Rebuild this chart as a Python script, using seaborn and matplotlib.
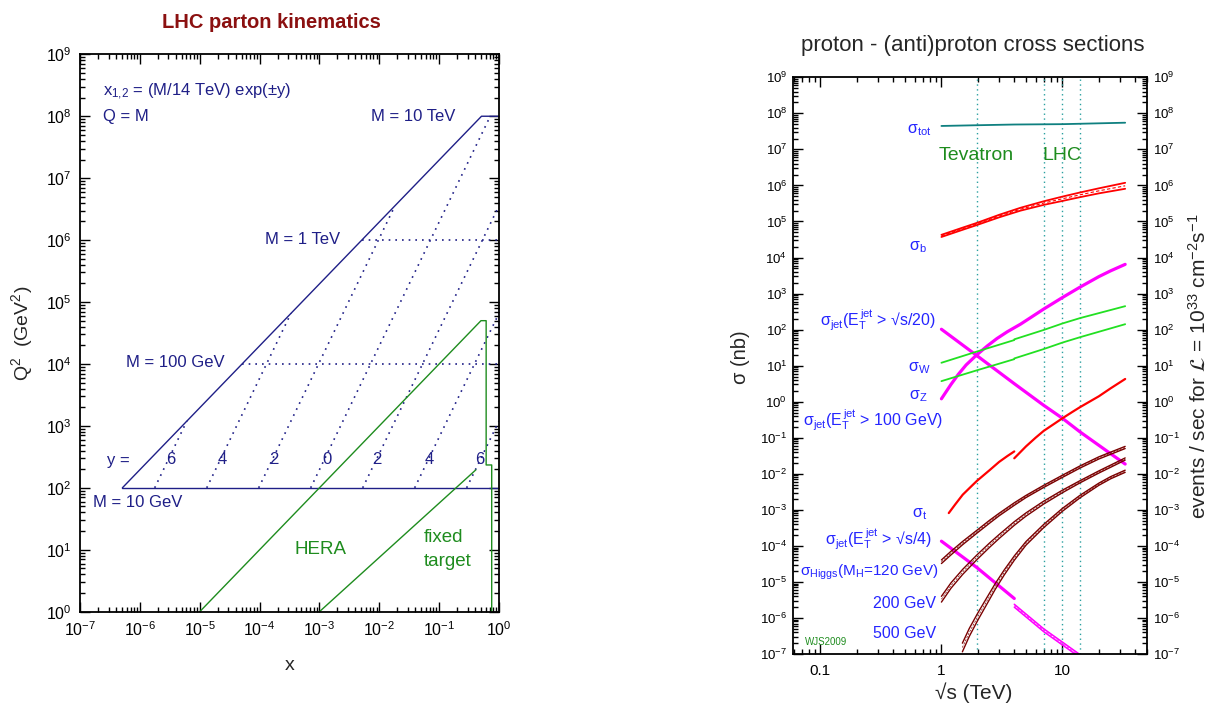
import numpy as np
import matplotlib
matplotlib.use('Agg')
import matplotlib.pyplot as plt
import matplotlib.ticker as mticker
import seaborn as sns

# ---------------- left panel data (LHC parton kinematics) ----------------
edge_x = [5.1e-7, 0.51, 1.0]          # Q^2 = x s boundary, then M = 10 TeV
edge_q2 = [1e2, 1e8, 1e8]
mlow_x = [5.1e-7, 1.0]                # M = 10 GeV
mlow_q2 = [1e2, 1e2]
rap_labels = ['6', '4', '2', '0', '2', '4', '6']
rap_x0 = [1.77e-6, 1.31e-5, 9.66e-5, 7.14e-4, 5.28e-3, 3.9e-2, 2.88e-1]
rap_q0 = [1e2, 1e2, 1e2, 1e2, 1e2, 1e2, 1e2]
rap_x1 = [6.1e-6, 3.35e-4, 1.83e-2, 7.14e-1, 1.0, 1.0, 1.0]
rap_q1 = [1.2e3, 6.6e4, 3.59e6, 1e8, 3.59e6, 6.6e4, 1.2e3]
mass_q2 = [1e4, 1e6]
mass_x0 = [5.1e-5, 5.1e-3]
hera_x = [1e-5, 0.5, 0.61, 0.61, 0.755, 0.755]
hera_q2 = [1.0, 5e4, 5e4, 234.0, 234.0, 1.0]
fixed_x = [1e-3, 0.41]
fixed_q2 = [1.0, 195.0]

# ---------------- right panel data (log10 sigma in nb vs sqrt(s) in TeV) ----------------
colliders = [1.96, 7.0, 10.0, 14.0]
tot_rs = [1, 1.96, 4, 10, 33]
tot_lg = [7.65, 7.67, 7.69, 7.70, 7.74]
b_rs = [1, 1.5, 1.96, 3, 4.5, 7, 10, 14, 20, 33]
b_mid = [4.60, 4.80, 4.93, 5.15, 5.34, 5.51, 5.63, 5.74, 5.85, 5.99]
b_hw = [0.03, 0.03, 0.03, 0.035, 0.04, 0.05, 0.06, 0.065, 0.07, 0.083]
j100_rs = [1, 1.2, 1.38, 1.6, 1.96, 2.4, 2.87, 3.5, 4.5, 5.5, 7, 10, 14, 20, 25, 33]
j100_lg = [0.08, 0.48, 0.76, 1.02, 1.30, 1.55, 1.75, 1.94, 2.15, 2.34, 2.57, 2.89, 3.18, 3.47, 3.63, 3.81]
j20_rs = [1, 1.96, 4, 7, 10, 14, 33]
j20_lg = [2.01, 1.28, 0.50, -0.10, -0.46, -0.84, -1.73]
w_rs_a = [1, 1.96, 4]
w_lg_a = [1.08, 1.39, 1.71]
w_rs_b = [4, 7, 10, 14, 33]
w_lg_b = [1.73, 1.99, 2.17, 2.32, 2.65]
z_rs_a = [1, 1.96, 4]
z_lg_a = [0.57, 0.87, 1.18]
z_rs_b = [4, 7, 10, 14, 33]
z_lg_b = [1.20, 1.46, 1.64, 1.79, 2.15]
t_rs_a = [1.15, 1.3, 1.5, 1.75, 1.96, 2.5, 3, 3.5, 4]
t_lg_a = [-3.09, -2.85, -2.58, -2.36, -2.20, -1.90, -1.67, -1.51, -1.38]
t_rs_b = [4, 5, 6, 7, 8.5, 10, 12, 14, 20, 25, 33]
t_lg_b = [-1.57, -1.24, -1.00, -0.81, -0.62, -0.46, -0.29, -0.15, 0.15, 0.37, 0.63]
j4_rs_a = [1, 1.96, 4]
j4_lg_a = [-3.87, -4.60, -5.46]
j4_rs_b = [4, 7, 10, 15]
j4_lg_b = [-5.66, -6.34, -6.71, -7.13]
h120_rs = [1, 1.2, 1.5, 1.96, 2.5, 3, 4, 5, 7, 10, 14, 20, 25, 33]
h120_lg = [-4.44, -4.20, -3.92, -3.61, -3.33, -3.13, -2.84, -2.63, -2.35, -2.07, -1.81, -1.56, -1.43, -1.27]
h120_w = [0.05, 0.05, 0.045, 0.04, 0.04, 0.035, 0.035, 0.03, 0.03, 0.03, 0.03, 0.03, 0.03, 0.03]
h200_rs = [1, 1.2, 1.5, 1.96, 2.5, 3, 4, 5, 7, 10, 14, 20, 25, 33]
h200_lg = [-5.48, -5.10, -4.72, -4.32, -3.98, -3.74, -3.38, -3.13, -2.80, -2.49, -2.22, -1.95, -1.79, -1.59]
h200_w = [0.08, 0.075, 0.07, 0.065, 0.06, 0.055, 0.05, 0.045, 0.04, 0.035, 0.03, 0.03, 0.03, 0.03]
h500_rs = [1.49, 1.7, 2.0, 2.4, 2.78, 3.3, 4, 5, 7, 10, 14, 20, 25, 33]
h500_lg = [-6.82, -6.40, -5.96, -5.50, -5.13, -4.74, -4.34, -3.93, -3.45, -3.00, -2.63, -2.29, -2.11, -1.93]
h500_w = [0.12, 0.11, 0.10, 0.09, 0.08, 0.07, 0.06, 0.05, 0.045, 0.04, 0.035, 0.03, 0.03, 0.03]

# ---------------- style ----------------
sns.set_theme(style='ticks')
plt.rcParams['font.family'] = ['Liberation Sans', 'DejaVu Sans']
plt.rcParams['mathtext.fontset'] = 'custom'
plt.rcParams['mathtext.rm'] = 'Liberation Sans'
plt.rcParams['mathtext.it'] = 'Liberation Sans:italic'
plt.rcParams['mathtext.bf'] = 'Liberation Sans:bold'
plt.rcParams['mathtext.default'] = 'regular'
plt.rcParams['axes.linewidth'] = 1.3

W, H = 1217, 707
fig = plt.figure(figsize=(W / 100, H / 100), dpi=100)
axL = fig.add_axes([80 / W, 1 - 611.7 / H, (499 - 80) / W, (611.7 - 54.3) / H])
axR = fig.add_axes([792.7 / W, 1 - 654 / H, (1147 - 792.7) / W, (654 - 77.3) / H])


def ftext(px, py, s, **kw):
    kw.setdefault('va', 'center')
    return fig.text(px / W, 1 - py / H, s, **kw)


def line(ax, xs, ys, **kw):
    sns.lineplot(x=np.asarray(xs, float), y=np.asarray(ys, float), ax=ax,
                 sort=False, estimator=None, legend=False, **kw)


for ax in (axL, axR):
    ax.set_xscale('log')
    ax.set_yscale('log')

axL.set_xlim(1e-7, 1)
axL.set_ylim(1, 1e9)
axR.set_xlim(0.059, 50)
axR.set_ylim(1e-7, 1e9)

NAVY = '#1f1f87'
GREEN = '#1e8c1e'
BLUE = '#2525ff'
MAROON = '#7a0000'

# ---------------- left panel ----------------
dot = (0, (1, 3))
line(axL, edge_x, edge_q2, color=NAVY, linewidth=1.0)
line(axL, mlow_x, mlow_q2, color=NAVY, linewidth=1.0)
for i in range(len(rap_labels)):
    line(axL, [rap_x0[i], rap_x1[i]], [rap_q0[i], rap_q1[i]], color=NAVY,
         linewidth=1.2, linestyle=dot)
for q, x0 in zip(mass_q2, mass_x0):
    line(axL, [x0, 1.0], [q, q], color=NAVY, linewidth=1.2, linestyle=dot)
line(axL, hera_x, hera_q2, color=GREEN, linewidth=1.0)
line(axL, fixed_x, fixed_q2, color=GREEN, linewidth=1.0)

# ---------------- right panel ----------------
for e in colliders:
    axR.axvline(e, color='#2aa0a0', linewidth=1.0, linestyle=(0, (1, 2.5)))


def P(v):
    return 10 ** np.asarray(v, float)


def band(rs, mid, hw, color, lw=1.0, lwc=0.6):
    mid = np.asarray(mid, float)
    hw = np.asarray(hw, float)
    line(axR, rs, P(mid + hw), color=color, linewidth=lw)
    line(axR, rs, P(mid - hw), color=color, linewidth=lw)
    line(axR, rs, P(mid), color=color, linewidth=lwc, linestyle=(0, (3, 2)))


line(axR, tot_rs, P(tot_lg), color='#0f8080', linewidth=1.3)
band(b_rs, b_mid, b_hw, '#ff0000', lw=1.3, lwc=0.8)
line(axR, j100_rs, P(j100_lg), color='#ff00ff', linewidth=2.3)
line(axR, j20_rs, P(j20_lg), color='#ff00ff', linewidth=2.3)
line(axR, w_rs_a, P(w_lg_a), color='#22e022', linewidth=1.3)
line(axR, w_rs_b, P(w_lg_b), color='#22e022', linewidth=1.3)
line(axR, z_rs_a, P(z_lg_a), color='#22e022', linewidth=1.3)
line(axR, z_rs_b, P(z_lg_b), color='#22e022', linewidth=1.3)
line(axR, t_rs_a, P(t_lg_a), color='#ff0000', linewidth=1.6)
line(axR, t_rs_b, P(t_lg_b), color='#ff0000', linewidth=1.6)
line(axR, j4_rs_a, P(j4_lg_a), color='#ff00ff', linewidth=2.3)
band(j4_rs_b, j4_lg_b, [0.04] * len(j4_rs_b), '#ff00ff', lw=1.1)
band(h120_rs, h120_lg, h120_w, MAROON, lw=1.0, lwc=0.5)
band(h200_rs, h200_lg, h200_w, MAROON, lw=1.0, lwc=0.5)
band(h500_rs, h500_lg, h500_w, MAROON, lw=1.0, lwc=0.5)

# ---------------- ticks ----------------
for ax in (axL, axR):
    ax.tick_params(which='both', direction='in', top=True, right=True,
                   width=1.0, colors='black')
    ax.tick_params(which='major', length=7)
    ax.tick_params(which='minor', length=3.5)
    ax.yaxis.set_major_locator(mticker.LogLocator(base=10, numticks=30))
    ax.yaxis.set_minor_locator(mticker.LogLocator(base=10, subs=np.arange(2, 10), numticks=200))
    ax.yaxis.set_major_formatter(mticker.LogFormatterSciNotation())
    ax.yaxis.set_minor_formatter(mticker.NullFormatter())
    ax.xaxis.set_minor_locator(mticker.LogLocator(base=10, subs=np.arange(2, 10), numticks=200))
    ax.xaxis.set_minor_formatter(mticker.NullFormatter())
    for s in ax.spines.values():
        s.set_linewidth(1.3)
        s.set_color('black')

axL.xaxis.set_major_locator(mticker.LogLocator(base=10, numticks=30))
axL.xaxis.set_major_formatter(mticker.LogFormatterSciNotation())
axL.tick_params(which='major', labelsize=11.5, pad=6)
axR.set_xticks([0.1, 1, 10])
axR.set_xticklabels(['0.1', '1', '10'])
axR.tick_params(axis='x', which='major', labelsize=11, pad=7)
axR.tick_params(axis='y', which='major', labelsize=9.5, labelleft=True, labelright=True, pad=4)

# ---------------- left texts ----------------
ftext(271.7, 22.7, 'LHC parton kinematics', ha='center', color='#8b1010',
      fontsize=14.5, fontweight='bold')
ftext(290, 665, 'x', ha='center', fontsize=14)
ftext(22, 333, 'Q$^2$  (GeV$^2$)', ha='center', rotation=90, fontsize=14)
ftext(103.3, 92, 'x$_{1{,}2}$ = (M/14 TeV) exp(±y)', ha='left', color=NAVY, fontsize=12)
ftext(103.3, 116, 'Q = M', ha='left', color=NAVY, fontsize=12)
ftext(370.7, 116.7, 'M = 10 TeV', ha='left', color=NAVY, fontsize=12)
ftext(265, 240, 'M = 1 TeV', ha='left', color=NAVY, fontsize=12)
ftext(126, 362.7, 'M = 100 GeV', ha='left', color=NAVY, fontsize=12)
ftext(106.7, 460, 'y =', ha='left', color=NAVY, fontsize=12)
for lab, px in zip(rap_labels, [170.7, 222.7, 274.3, 326.7, 377.3, 429, 480]):
    ftext(px, 460, lab, ha='center', color=NAVY, fontsize=12)
ftext(92.7, 502.3, 'M = 10 GeV', ha='left', color=NAVY, fontsize=12)
ftext(320, 549, 'HERA', ha='center', color=GREEN, fontsize=13.5)
ftext(423.3, 537.7, 'fixed', ha='left', color=GREEN, fontsize=13.5)
ftext(423.3, 561, 'target', ha='left', color=GREEN, fontsize=13.5)

# ---------------- right texts ----------------
ftext(972.7, 45, 'proton - (anti)proton cross sections', ha='center', fontsize=16)
ftext(974, 693, '√s (TeV)', ha='center', fontsize=15)
ftext(741, 357, 'σ (nb)', ha='center', rotation=90, fontsize=14.5)
ftext(1199, 366, r'events / sec for $\mathcal{L}$ = 10$^{33}$ cm$^{-2}$s$^{-1}$', ha='center',
      rotation=90, fontsize=15, math_fontfamily='stixsans')
ftext(976, 155, 'Tevatron', ha='center', color=GREEN, fontsize=14)
ftext(1061.5, 155, 'LHC', ha='center', color=GREEN, fontsize=14)
rs_ = 11.5
ftext(931, 130, r'$\sigma_{tot}$', ha='right', color=BLUE, fontsize=rs_)
ftext(927, 247, r'$\sigma_b$', ha='right', color=BLUE, fontsize=rs_)
ftext(936, 320, r'$\sigma_{jet}$(E$_T^{\,jet}$ > √s/20)', ha='right', color=BLUE, fontsize=rs_)
ftext(931, 368, r'$\sigma_W$', ha='right', color=BLUE, fontsize=rs_)
ftext(927, 396, r'$\sigma_Z$', ha='right', color=BLUE, fontsize=rs_)
ftext(943, 420, r'$\sigma_{jet}$(E$_T^{\,jet}$ > 100 GeV)', ha='right', color=BLUE, fontsize=rs_)
ftext(927, 514, r'$\sigma_t$', ha='right', color=BLUE, fontsize=rs_)
ftext(932, 539, r'$\sigma_{jet}$(E$_T^{\,jet}$ > √s/4)', ha='right', color=BLUE, fontsize=rs_)
ftext(939, 572, r'$\sigma_{Higgs}$(M$_H$=120 GeV)', ha='right', color=BLUE, fontsize=11)
ftext(936, 603, '200 GeV', ha='right', color=BLUE, fontsize=rs_)
ftext(936, 633, '500 GeV', ha='right', color=BLUE, fontsize=rs_)
ftext(805, 642, 'WJS2009', ha='left', color=GREEN, fontsize=7)

fig.savefig('out.png', dpi=100)
